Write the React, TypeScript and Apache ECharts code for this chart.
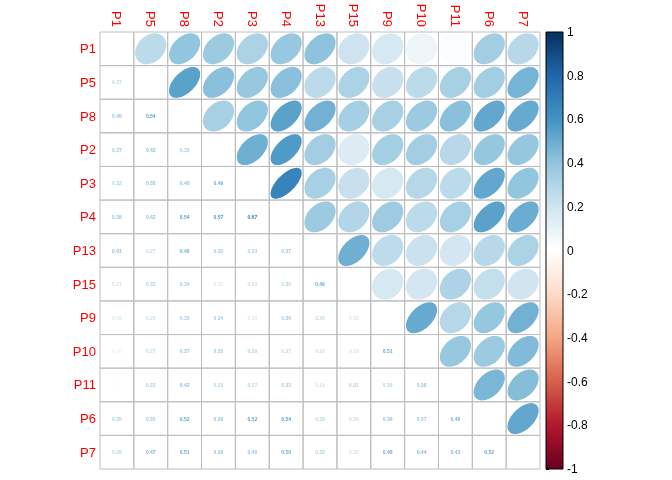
import React, { useEffect, useRef } from "react";
import * as echarts from "echarts";

const variables = ["P1", "P5", "P8", "P2", "P3", "P4", "P13", "P15", "P9", "P10", "P11", "P6", "P7"];

// lower-triangle correlations, one row per variable (values against earlier variables)
const corrP1: number[] = [];
const corrP5 = [0.27];
const corrP8 = [0.4, 0.54];
const corrP2 = [0.37, 0.42, 0.33];
const corrP3 = [0.32, 0.38, 0.4, 0.49];
const corrP4 = [0.38, 0.42, 0.54, 0.57, 0.67];
const corrP13 = [0.41, 0.27, 0.48, 0.35, 0.33, 0.37];
const corrP15 = [0.21, 0.32, 0.34, 0.15, 0.23, 0.3, 0.49];
const corrP9 = [0.18, 0.23, 0.33, 0.34, 0.18, 0.36, 0.26, 0.18];
const corrP10 = [0.08, 0.27, 0.37, 0.35, 0.29, 0.27, 0.22, 0.19, 0.51];
const corrP11 = [0.02, 0.33, 0.42, 0.28, 0.27, 0.33, 0.19, 0.31, 0.29, 0.38];
const corrP6 = [0.35, 0.35, 0.52, 0.39, 0.52, 0.54, 0.28, 0.24, 0.39, 0.37, 0.46];
const corrP7 = [0.28, 0.47, 0.51, 0.39, 0.4, 0.5, 0.32, 0.2, 0.48, 0.44, 0.43, 0.52];

const lowerRows = [corrP1, corrP5, corrP8, corrP2, corrP3, corrP4, corrP13, corrP15, corrP9, corrP10, corrP11, corrP6, corrP7];

const palette = [
  "#67001F", "#B2182B", "#D6604D", "#F4A582", "#FDDBC7", "#FFFFFF",
  "#D1E5F0", "#92C5DE", "#4393C3", "#2166AC", "#053061",
];

const FONT = "'Liberation Sans', Arial, sans-serif";

export default function App() {
  const ref = useRef<HTMLDivElement>(null);
  useEffect(() => {
    if (!ref.current) return;
    const chart = echarts.init(ref.current, null, { renderer: "svg" });
    const n = variables.length;
    const cells: number[][] = [];
    const upper: number[][] = [];
    const lower: number[][] = [];
    for (let i = 0; i < n; i++) {
      for (let j = 0; j < n; j++) {
        cells.push([j, i]);
        if (i > j) lower.push([j, i, lowerRows[i][j]]);
        if (j > i) upper.push([j, i, lowerRows[j][i]]);
      }
    }
    const stops = palette
      .slice()
      .reverse()
      .map((c, k) => ({ offset: k / (palette.length - 1), color: c }));

    chart.setOption({
      animation: false,
      textStyle: { fontFamily: FONT },
      grid: [
        { left: 100, top: 32, width: 440, height: 437 },
        { left: 546, top: 32, width: 17, height: 437 },
      ],
      xAxis: [
        {
          type: "category",
          gridIndex: 0,
          position: "top",
          data: variables,
          axisLine: { show: false },
          axisTick: { show: false },
          splitLine: { show: false },
          axisLabel: { rotate: 90, color: "#FF0000", fontSize: 13, margin: 5, fontFamily: FONT },
        },
        { type: "value", gridIndex: 1, min: 0, max: 1, show: false },
      ],
      yAxis: [
        {
          type: "category",
          gridIndex: 0,
          inverse: true,
          data: variables,
          axisLine: { show: false },
          axisTick: { show: false },
          splitLine: { show: false },
          axisLabel: { color: "#FF0000", fontSize: 13, margin: 4, fontFamily: FONT },
        },
        {
          type: "value",
          gridIndex: 1,
          min: -1,
          max: 1,
          interval: 0.2,
          position: "right",
          axisLine: { show: false },
          splitLine: { show: false },
          axisTick: { show: true, length: 3, lineStyle: { color: "#000" } },
          axisLabel: {
            color: "#000",
            fontSize: 12,
            margin: 4,
            fontFamily: FONT,
            formatter: (v: number) => String(Number(v.toFixed(1))),
          },
        },
      ],
      visualMap: {
        type: "continuous",
        show: false,
        min: -1,
        max: 1,
        dimension: 2,
        seriesIndex: [1, 2],
        inRange: { color: palette },
      },
      series: [
        {
          type: "custom",
          xAxisIndex: 0,
          yAxisIndex: 0,
          data: cells,
          silent: true,
          renderItem: (params: any, api: any) => {
            const c = api.coord([api.value(0), api.value(1)]);
            const s = api.size([1, 1]);
            return {
              type: "rect",
              shape: { x: c[0] - s[0] / 2, y: c[1] - s[1] / 2, width: s[0], height: s[1] },
              style: { fill: "none", stroke: "#BEBEBE", lineWidth: 1 },
            };
          },
        },
        {
          type: "custom",
          xAxisIndex: 0,
          yAxisIndex: 0,
          data: upper,
          silent: true,
          renderItem: (params: any, api: any) => {
            const c = api.coord([api.value(0), api.value(1)]);
            const s = api.size([1, 1]);
            const r = api.value(2);
            const a = Math.acos(r) / 2;
            const pts: number[][] = [];
            for (let k = 0; k < 99; k++) {
              const t = (2 * Math.PI * k) / 98;
              const x = (0.92 * Math.cos(t + a)) / 2;
              const y = (0.92 * Math.cos(t - a)) / 2;
              pts.push([c[0] + x * s[0], c[1] - y * s[1]]);
            }
            return { type: "polygon", shape: { points: pts }, style: { fill: api.visual("color") } };
          },
        },
        {
          type: "custom",
          xAxisIndex: 0,
          yAxisIndex: 0,
          data: lower,
          silent: true,
          renderItem: (params: any, api: any) => {
            const c = api.coord([api.value(0), api.value(1)]);
            return {
              type: "text",
              x: c[0],
              y: c[1],
              style: {
                text: api.value(2).toFixed(2),
                fill: api.visual("color"),
                fontSize: 5,
                fontWeight: "bold",
                fontFamily: FONT,
                align: "center",
                verticalAlign: "middle",
              },
            };
          },
        },
        {
          type: "custom",
          xAxisIndex: 1,
          yAxisIndex: 1,
          data: [[0]],
          silent: true,
          renderItem: (params: any, api: any) => {
            const p0 = api.coord([0, 1]);
            const p1 = api.coord([1, -1]);
            return {
              type: "rect",
              shape: { x: p0[0], y: p0[1], width: p1[0] - p0[0], height: p1[1] - p0[1] },
              style: {
                fill: new echarts.graphic.LinearGradient(0, 0, 0, 1, stops),
                stroke: "#000",
                lineWidth: 1,
              },
            };
          },
        },
      ],
    });
    return () => chart.dispose();
  }, []);
  return <div ref={ref} style={{ position: "fixed", left: 0, top: 0, width: 672, height: 480 }} />;
}
